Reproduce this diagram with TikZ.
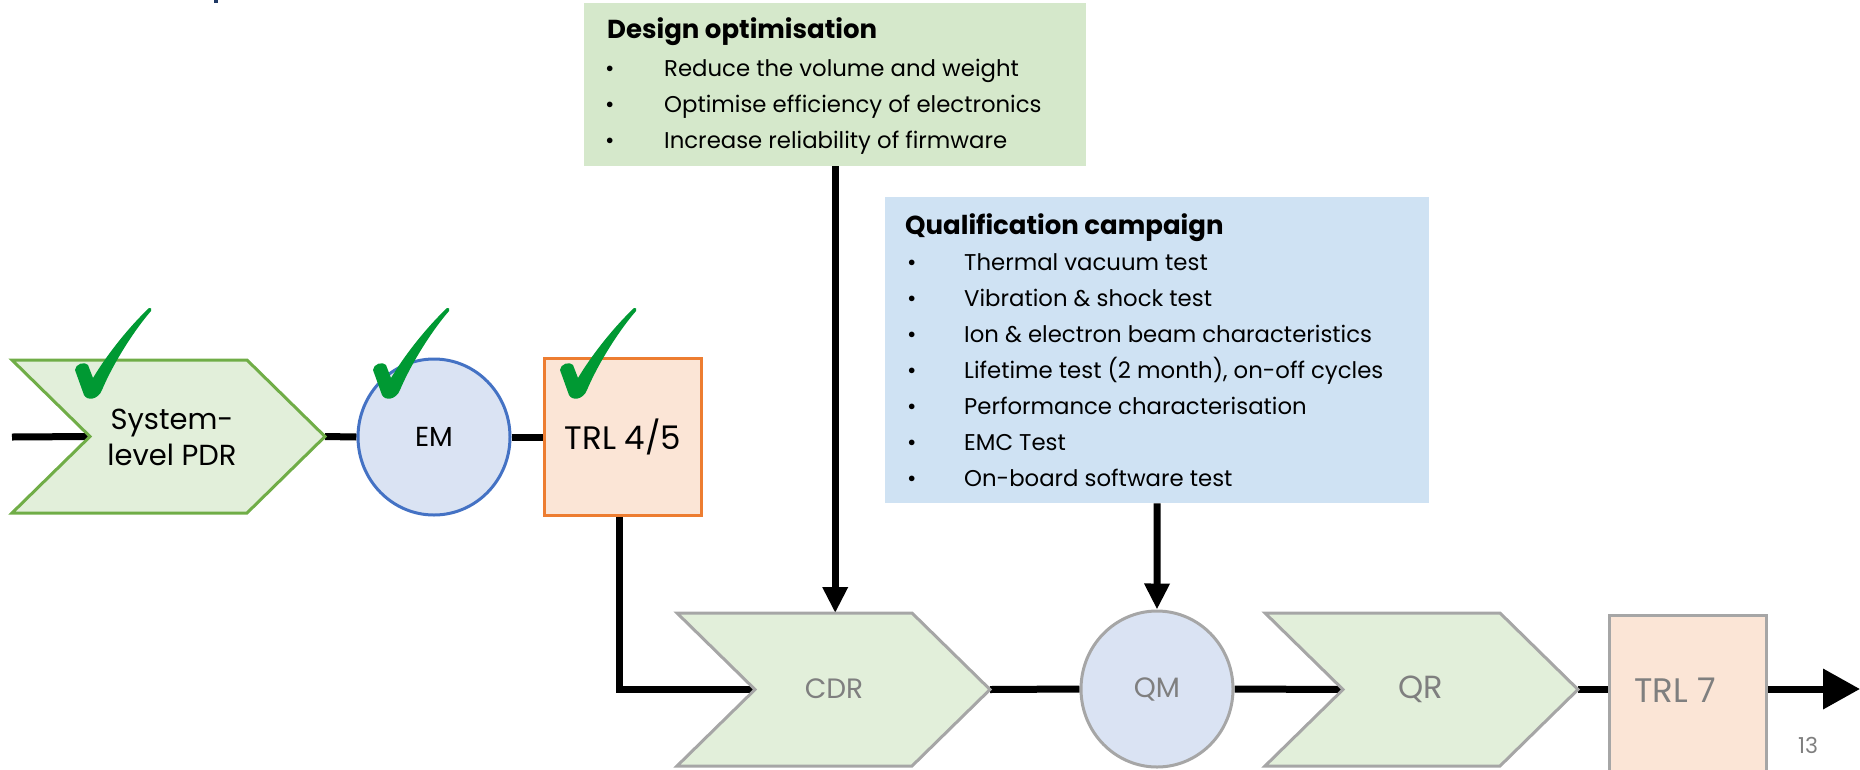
\documentclass[tikz,border=0pt]{standalone}
\usepackage{fontspec}
\setmainfont{Poppins}
\usetikzlibrary{arrows.meta,shapes.geometric}

\definecolor{designfill}{RGB}{213,232,203}
\definecolor{qualfill}{RGB}{207,226,243}
\definecolor{chevfill}{RGB}{226,239,218}
\definecolor{modelfill}{RGB}{218,227,243}
\definecolor{trlfill}{RGB}{251,229,214}
\definecolor{chevline}{RGB}{112,173,71}
\definecolor{modelline}{RGB}{68,114,196}
\definecolor{trlline}{RGB}{237,125,49}
\definecolor{greyline}{RGB}{166,166,166}
\definecolor{greytext}{RGB}{127,127,127}
\definecolor{tickgreen}{RGB}{0,153,51}
\definecolor{titleblue}{RGB}{31,56,100}

\pgfdeclarelayer{bg}
\pgfsetlayers{bg,main}

% chevron: name, left x, top y, style
\newcommand\chevron[4]{%
  \draw[#4] (#2,#3) coordinate (#1-tl) -- ++(235,0) -- ++(78,76.5) -- ++(-78,76.5)
    -- ++(-235,0) -- ++(78,-76.5) -- cycle;
  \path (#2,#3) ++(78,76.5) coordinate (#1-in) ++(235,0) coordinate (#1-out);
}

\tikzset{
  flow/.style={line width=7pt, black},
  arrdown/.style={flow, -{Triangle[length=26pt,width=24pt]}},
  arrend/.style={flow, -{Triangle[length=37pt,width=39pt]}},
  item/.style={anchor=base west, inner sep=0pt, font=\fontsize{22.8}{26}\selectfont},
  hdr/.style={item, font=\fontsize{26}{30}\selectfont\bfseries},
  chevgreen/.style={fill=chevfill, draw=chevline, line width=3pt, line join=miter},
  chevgrey/.style={fill=chevfill, draw=greyline, line width=3pt, line join=miter},
  label/.style={inner sep=0pt, align=center},
  modelnode/.style={ellipse, minimum width=152pt, minimum height=156pt, inner sep=0pt,
    fill=modelfill, line width=3pt},
  trlnode/.style={rectangle, minimum width=157pt, minimum height=157pt, inner sep=0pt,
    fill=trlfill, line width=3pt},
  okmark/.pic={\fill[tickgreen] (-15,-28) .. controls (-15,-34) and (-5,-37) .. (-2,-33)
    -- (3,-20) .. controls (18,-45) and (40,-72) .. (59,-90)
    .. controls (61,-91) and (62,-89) .. (61,-87)
    .. controls (42,-65) and (22,-32) .. (12,-8)
    .. controls (8,2) and (-3,3) .. (-6,-3) -- cycle;}
}

\begin{document}
\begin{tikzpicture}[x=1pt, y=-1pt]
\useasboundingbox (0,0) rectangle (1860,769);

% fragment of the slide title above
\fill[titleblue] (214,0) rectangle (218,3);

% ---- note boxes ----
\node[fill=designfill, minimum width=502pt, minimum height=163pt, inner sep=0pt,
  anchor=north west] (design) at (584,3) {};
\node[hdr] (design-h) at (607,38) {Design optimisation};
\foreach \y/\t [count=\i] in {76/Reduce the volume and weight,
    112/Optimise efficiency of electronics,
    148/Increase reliability of firmware}{
  \node[item] (design-b\i) at (605,\y) {\textbullet};
  \node[item] (design-t\i) at (664,\y) {\t};
}

\node[fill=qualfill, minimum width=544pt, minimum height=306pt, inner sep=0pt,
  anchor=north west] (qual) at (885,197) {};
\node[hdr] (qual-h) at (905,234) {Qualification campaign};
\foreach \y/\t [count=\i] in {270/Thermal vacuum test,
    306/Vibration \& shock test,
    342/Ion \& electron beam characteristics,
    378/{Lifetime test (2 month), on-off cycles},
    414/Performance characterisation,
    450/EMC Test,
    486/On-board software test}{
  \node[item] (qual-b\i) at (907,\y) {\textbullet};
  \node[item] (qual-t\i) at (964,\y) {\t};
}

% ---- top row ----
\chevron{pdr}{12}{360}{chevgreen}
\node[label, font=\fontsize{29}{36}\selectfont] (pdr) at (172,437) {System-\\level PDR};
\node[modelnode, draw=modelline, font=\fontsize{27.5}{30}\selectfont] (em) at (434,437) {EM};
\node[trlnode, draw=trlline, font=\fontsize{32.5}{36}\selectfont] (trl45) at (623,437) {TRL 4/5};

% ---- bottom row ----
\chevron{cdr}{677}{613}{chevgrey}
\node[label, text=greytext, font=\fontsize{28}{32}\selectfont] (cdr) at (834,689) {CDR};
\node[modelnode, draw=greyline, text=greytext, font=\fontsize{28}{32}\selectfont] (qm) at (1157,689) {QM};
\chevron{qr}{1265}{613}{chevgrey}
\node[label, text=greytext, font=\fontsize{32}{36}\selectfont] (qr) at (1421,689) {QR};
\node[trlnode, draw=greyline] (trl7) at (1688,693.5) {};
\node[label, text=greytext, font=\fontsize{34}{38}\selectfont] (trl7-l) at (1675,690) {TRL 7};

\node[label, text=greytext, font=\fontsize{22}{26}\selectfont] (page) at (1808,745) {13};

% ---- connectors ----
\coordinate (start) at (12,437);
\coordinate (end) at (1860,689);
\begin{pgfonlayer}{bg}
  \draw[flow] (start) -- (pdr-in);
  \draw[flow] (pdr-out) -- (em.west);
  \draw[flow] (em.east) -- (trl45.west);
  \draw[flow] ([xshift=-4pt]trl45.south) |- (cdr-in);
  \draw[arrdown] (design.south) -- (design.south |- cdr-tl);
  \draw[arrdown] (qual.south) -- (qm.north);
  \draw[flow] (cdr-out) -- (qm.west);
  \draw[flow] (qm.east) -- (qr-in);
  \draw[flow] (qr-out) -- (trl7.west |- qr-out);
  \draw[arrend] (trl7.east |- end) -- (end);
\end{pgfonlayer}

% ---- completed milestones ----
\pic at (90,398) {okmark};
\pic at (388,398) {okmark};
\pic at (575,398) {okmark};
\end{tikzpicture}
\end{document}
